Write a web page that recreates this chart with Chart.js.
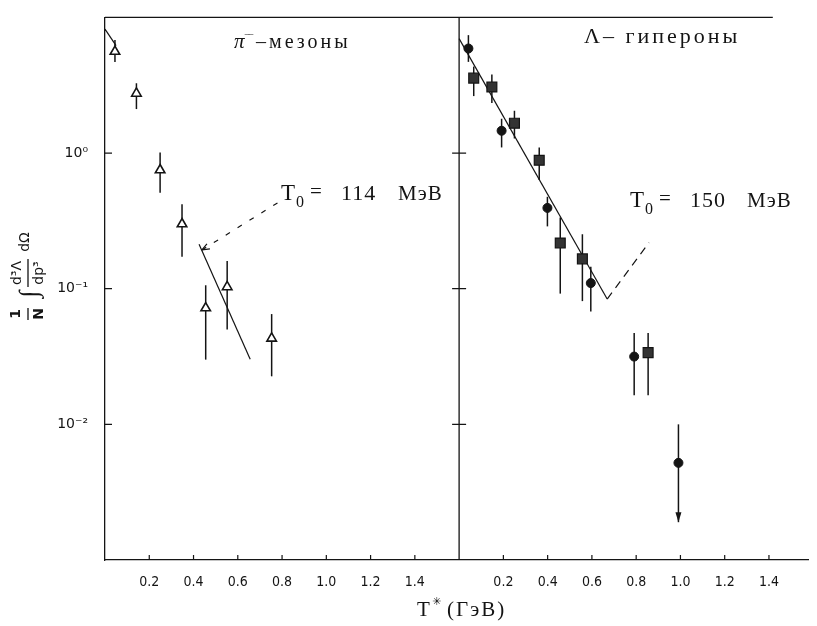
<!DOCTYPE html>
<html>
<head>
<meta charset="utf-8">
<script src="https://cdn.jsdelivr.net/npm/chart.js@4.4.1/dist/chart.umd.min.js"></script>
<style>
  body { margin: 0; background: #fff; }
  #wrap { width: 817px; height: 626px; }
</style>
</head>
<body>
<div id="wrap"><canvas id="chart" width="817" height="626"></canvas></div>
<script>
// the right panel starts where the left one ends (its own 0 sits at 1.6)
const PANEL = 1.6;

// pi- mesons, left panel: T* (GeV), value, error bar ends
const pionT   = [0.045, 0.142, 0.249, 0.348, 0.455, 0.552, 0.753];
const pionVal = [5.6, 2.75, 0.75, 0.30, 0.072, 0.103, 0.043];
const pionHi  = [6.8, 3.27, 1.01, 0.42, 0.106, 0.160, 0.065];
const pionLo  = [4.7, 2.11, 0.51, 0.172, 0.030, 0.050, 0.0226];

// Lambda hyperons, right panel, circles
const lamCircT     = [0.042, 0.192, 0.399, 0.595, 0.791, 0.991];
const lamCircVal   = [5.9, 1.46, 0.394, 0.110, 0.0316, 0.0052];
const lamCircHi    = [7.4, 1.79, 0.476, 0.145, 0.0472, 0.0100];
const lamCircLo    = [4.7, 1.10, 0.288, 0.068, 0.0164, 0.0019];
const lamCircLimit = [false, false, false, false, false, true];

// Lambda hyperons, right panel, squares
const lamSqT   = [0.066, 0.148, 0.250, 0.362, 0.457, 0.557, 0.854];
const lamSqVal = [3.57, 3.07, 1.66, 0.885, 0.217, 0.166, 0.0338];
const lamSqHi  = [4.34, 3.80, 2.05, 1.10, 0.335, 0.252, 0.0472];
const lamSqLo  = [2.63, 2.34, 1.28, 0.633, 0.092, 0.081, 0.0164];

// fitted exponentials and the dashed pieces
const pionFitT = [0.425, 0.656],     pionFitVal = [0.213, 0.0302];
const pionEdgeT = [0, 0.05],         pionEdgeVal = [8.2, 6.2];
const pionPointerT = [0.438, 0.79],  pionPointerVal = [0.193, 0.44];
const lamFitT = [0, 0.669],          lamFitVal = [6.98, 0.0839];
const lamTailT = [0.669, 0.858],     lamTailVal = [0.0839, 0.219];

const xTicks = [0.2, 0.4, 0.6, 0.8, 1.0, 1.2, 1.4];
const yTicks = [1, 0.1, 0.01];
const yTickLabels = ['10\u2070', '10\u207B\u00B9', '10\u207B\u00B2'];

const INK = '#141414';
const SERIF = '"Liberation Serif", "DejaVu Serif", serif';

const pts = (xs, ys, off = 0) => xs.map((x, i) => ({ x: x + off, y: ys[i] }));

function line(data, dash) {
  return {
    data, showLine: true, pointRadius: 0, borderColor: INK,
    borderWidth: 1.2, borderDash: dash || [], fill: false
  };
}

const errorSets = [
  { t: pionT, lo: pionLo, hi: pionHi, off: 0 },
  { t: lamCircT, lo: lamCircLo, hi: lamCircHi, off: PANEL, limit: lamCircLimit },
  { t: lamSqT, lo: lamSqLo, hi: lamSqHi, off: PANEL }
];

function txt(ctx, s, x, y, font, spacing) {
  ctx.font = font;
  ctx.letterSpacing = spacing || '0px';
  ctx.fillText(s, x, y);
  ctx.letterSpacing = '0px';
}

function drawT0(ctx, x, y, value) {
  ctx.textAlign = 'left';
  ctx.textBaseline = 'alphabetic';
  txt(ctx, 'T', x, y, '23px ' + SERIF);
  txt(ctx, '0', x + 15, y + 7, '16px ' + SERIF);
  txt(ctx, '=', x + 29, y - 2, '21px ' + SERIF);
  txt(ctx, value, x + 60, y, '22px ' + SERIF, '1px');
  txt(ctx, 'МэВ', x + 117, y, '21px ' + SERIF, '1px');
}

const decor = {
  id: 'decor',
  beforeDatasetsDraw(chart) {
    const { ctx, scales: { x, y } } = chart;
    ctx.save();
    ctx.strokeStyle = INK;
    ctx.fillStyle = INK;
    ctx.lineWidth = 1.5;
    errorSets.forEach(s => {
      s.t.forEach((t, i) => {
        const px = x.getPixelForValue(t + s.off);
        const top = y.getPixelForValue(s.hi[i]);
        const bot = y.getPixelForValue(s.lo[i]);
        ctx.beginPath();
        ctx.moveTo(px, top);
        ctx.lineTo(px, bot);
        ctx.stroke();
        if (s.limit && s.limit[i]) {
          ctx.beginPath();
          ctx.moveTo(px - 3, bot - 10);
          ctx.lineTo(px + 3, bot - 10);
          ctx.lineTo(px, bot);
          ctx.closePath();
          ctx.fill();
        }
      });
    });
    ctx.restore();
  },
  afterDraw(chart) {
    const { ctx, chartArea: a, scales: { x, y } } = chart;
    ctx.save();
    ctx.strokeStyle = INK;
    ctx.fillStyle = INK;

    // top edge and the second vertical axis between the panels
    ctx.lineWidth = 1.3;
    const mid = x.getPixelForValue(PANEL);
    ctx.beginPath();
    ctx.moveTo(a.left, a.top); ctx.lineTo(a.right - 36, a.top);
    ctx.moveTo(mid, a.top); ctx.lineTo(mid, a.bottom);
    ctx.stroke();

    // inward ticks
    ctx.lineWidth = 1.2;
    ctx.beginPath();
    yTicks.forEach(v => {
      const py = y.getPixelForValue(v);
      ctx.moveTo(a.left, py); ctx.lineTo(a.left + 7, py);
      ctx.moveTo(mid - 7, py); ctx.lineTo(mid + 7, py);
    });
    xTicks.forEach(v => {
      [v, v + PANEL].forEach(t => {
        const px = x.getPixelForValue(t);
        ctx.moveTo(px, a.bottom); ctx.lineTo(px, a.bottom - 5);
      });
    });
    ctx.stroke();

    // small arrow where the pion pointer meets the fit
    const ax = x.getPixelForValue(pionPointerT[0]);
    const ay = y.getPixelForValue(pionPointerVal[0]);
    ctx.beginPath();
    ctx.moveTo(ax, ay); ctx.lineTo(ax + 8, ay - 1);
    ctx.moveTo(ax, ay); ctx.lineTo(ax + 5, ay - 6);
    ctx.stroke();

    // panel captions
    ctx.textAlign = 'left';
    ctx.textBaseline = 'alphabetic';
    txt(ctx, 'π', 234, 48, 'italic 21px ' + SERIF);
    txt(ctx, '\u203E\u203E', 245, 44, '12px ' + SERIF);
    txt(ctx, '–мезоны', 256, 48, '20px ' + SERIF, '3px');
    txt(ctx, 'Λ– гипероны', 584, 43, '22px ' + SERIF, '3px');

    drawT0(ctx, 281, 200, '114');
    drawT0(ctx, 630, 207, '150');

    // x axis title
    txt(ctx, 'T', 417, 616, '21px ' + SERIF);
    txt(ctx, '\u2733', 432, 605, 'bold 11px "DejaVu Sans"');
    txt(ctx, '(ГэВ)', 447, 616, '21px ' + SERIF, '2px');

    // y axis title, rotated, with its two fractions
    ctx.translate(28, 275);
    ctx.rotate(-Math.PI / 2);
    ctx.textAlign = 'center';
    ctx.textBaseline = 'middle';
    ctx.lineWidth = 1.3;
    txt(ctx, '1', -39, -12, 'bold 14px "DejaVu Sans"');
    txt(ctx, 'N', -39, 11, 'bold 14px "DejaVu Sans"');
    ctx.beginPath();
    ctx.moveTo(-45, 0); ctx.lineTo(-33, 0);
    ctx.moveTo(-12, 0); ctx.lineTo(16, 0);
    ctx.stroke();
    txt(ctx, '∫', -19, 2, '26px ' + SERIF);
    txt(ctx, 'd³Λ', 2, -11, '14px "DejaVu Sans"');
    txt(ctx, 'dp³', 2, 11, '14px "DejaVu Sans"');
    txt(ctx, 'dΩ', 33, -3, '14px "DejaVu Sans"');
    ctx.restore();
  }
};

new Chart(document.getElementById('chart'), {
  type: 'scatter',
  data: {
    datasets: [
      {
        data: pts(pionT, pionVal), pointStyle: 'triangle', pointRadius: 5.5,
        backgroundColor: '#fff', borderColor: INK, borderWidth: 1.6
      },
      {
        data: pts(lamCircT, lamCircVal, PANEL), pointStyle: 'circle', pointRadius: 4.5,
        backgroundColor: INK, borderColor: INK, borderWidth: 1
      },
      {
        data: pts(lamSqT, lamSqVal, PANEL), pointStyle: 'rect', pointRadius: 7,
        backgroundColor: '#333', borderColor: INK, borderWidth: 1.2
      },
      line(pts(pionFitT, pionFitVal)),
      line(pts(pionEdgeT, pionEdgeVal)),
      line(pts(pionPointerT, pionPointerVal), [5, 9]),
      line(pts(lamFitT, lamFitVal, PANEL)),
      line(pts(lamTailT, lamTailVal, PANEL), [8, 6])
    ]
  },
  options: {
    responsive: false,
    animation: false,
    layout: { padding: { top: 10, right: 1, left: 0, bottom: 0 } },
    plugins: { legend: { display: false }, tooltip: { enabled: false } },
    scales: {
      x: {
        type: 'linear', min: 0, max: 3.18,
        grid: { display: false },
        border: { display: true, color: INK, width: 1.3 },
        afterBuildTicks: s => {
          s.ticks = xTicks.map(v => ({ value: v })).concat(xTicks.map(v => ({ value: v + PANEL })));
        },
        afterFit: s => { s.height = 66; },
        ticks: {
          color: INK, padding: 6, maxRotation: 0, autoSkip: false,
          font: { family: '"DejaVu Sans Condensed", "DejaVu Sans"', size: 14 },
          callback: v => (v > PANEL ? v - PANEL : v).toFixed(1)
        }
      },
      y: {
        type: 'logarithmic', min: 0.001, max: 10,
        grid: { display: false },
        border: { display: true, color: INK, width: 1.3 },
        afterBuildTicks: s => { s.ticks = yTicks.map(v => ({ value: v })); },
        afterFit: s => { s.width = 105; },
        ticks: {
          color: INK, padding: 9,
          font: { family: '"DejaVu Sans"', size: 14 },
          callback: v => yTickLabels[yTicks.indexOf(v)]
        }
      }
    }
  },
  plugins: [decor]
});
</script>
</body>
</html>
